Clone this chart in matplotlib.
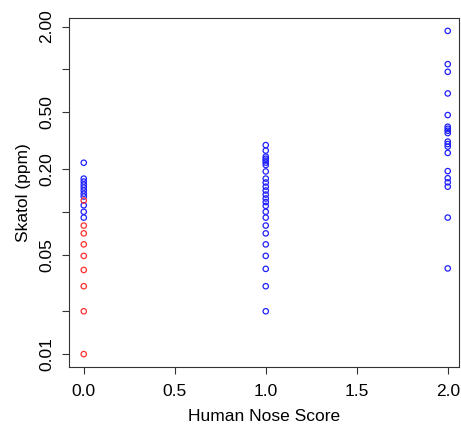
import numpy as np
import matplotlib.pyplot as plt

plt.rcParams['font.family'] = ['Liberation Sans', 'DejaVu Sans']

# score 0, skatol readings (ppm)
s0_blue = [0.221, 0.171, 0.163, 0.155, 0.148, 0.141, 0.134, 0.128, 0.111, 0.100, 0.091]
s0_red = [0.120, 0.080, 0.0705, 0.059, 0.049, 0.039, 0.030, 0.020, 0.010]
# score 1
s1_blue = [0.294, 0.269, 0.244, 0.236, 0.229, 0.2215, 0.213, 0.192, 0.171, 0.1605,
           0.150, 0.141, 0.132, 0.124, 0.117, 0.110, 0.100, 0.091, 0.080, 0.0705,
           0.059, 0.049, 0.0397, 0.030, 0.020]
# score 2
s2_blue = [1.865, 1.089, 0.962, 0.678, 0.478, 0.396, 0.383, 0.371, 0.357, 0.311,
           0.299, 0.287, 0.259, 0.193, 0.172, 0.161, 0.150, 0.091, 0.040]

yticks = [0.01, 0.02, 0.05, 0.1, 0.2, 0.5, 1, 2]
ylabels = ['0.01', '', '0.05', '', '0.20', '0.50', '', '2.00']
xticks = [0.0, 0.5, 1.0, 1.5, 2.0]

fig = plt.figure(figsize=(4.61, 4.26), dpi=100)
ax = fig.add_axes([69.2/461, 59/426, (459.3-69.2)/461, (367-18)/426])

mk = dict(marker='o', facecolors='none', s=15, linewidths=0.9)
ax.scatter(np.zeros(len(s0_blue)), s0_blue, edgecolors='#2020ff', **mk)
ax.scatter(np.zeros(len(s0_red)), s0_red, edgecolors='#ff3030', **mk)
ax.scatter(np.ones(len(s1_blue)), s1_blue, edgecolors='#2020ff', **mk)
ax.scatter(np.full(len(s2_blue), 2.0), s2_blue, edgecolors='#2020ff', **mk)

ax.set_yscale('log')
ax.set_xlim(-0.08, 2.0635)
ax.set_ylim(10**-2.0905, 10**(np.log10(1.865)+0.0905))
ax.set_yticks(yticks)
ax.set_yticklabels(ylabels, rotation=90, va='center')
ax.minorticks_off()
ax.set_xticks(xticks)
ax.set_xticklabels(['%.1f' % t for t in xticks])

ax.tick_params(length=5, width=0.8, labelsize=12.5, color='#333333')
ax.tick_params(axis='x', pad=7)
ax.tick_params(axis='y', pad=6)
for sp in ax.spines.values():
    sp.set_linewidth(0.8)
    sp.set_color('#333333')

ax.set_xlabel('Human Nose Score', fontsize=12.5, labelpad=7.5)
ax.set_ylabel('Skatol (ppm)', fontsize=12.5, labelpad=6)

fig.savefig('out.png', dpi=100)
